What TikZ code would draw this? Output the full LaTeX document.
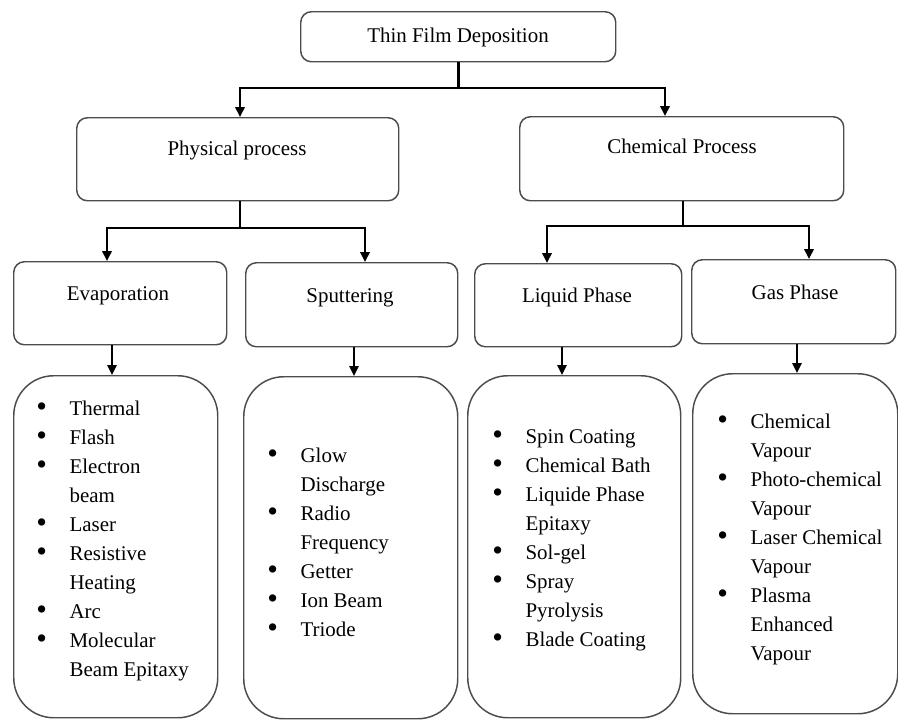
\documentclass[tikz,border=0pt]{standalone}
\usepackage{fontspec}
\setmainfont{Liberation Serif}
\usetikzlibrary{arrows.meta}
\newcommand{\bl}{\makebox[25pt][l]{\raisebox{-0.08em}{\scalebox{1.45}{\textbullet}}}}
\newcommand{\ind}{\hspace*{25pt}}
\tikzset{
  hbox/.style={draw=black!70, line width=1.1pt, rounded corners=8pt, inner sep=0pt, anchor=north west},
  lbox/.style={draw=black!70, line width=1.1pt, rounded corners=30pt, inner sep=0pt, anchor=north west},
  htext/.style={anchor=base, inner sep=0pt, font=\fontsize{15.7}{21.75}\selectfont},
  ltext/.style={anchor=north west, inner sep=0pt, align=left, font=\fontsize{15.7}{21.75}\selectfont},
  conn/.style={line width=2pt, black},
  carr/.style={line width=2pt, black, -{Triangle[length=7.5pt,width=7pt]}},
  sarr/.style={line width=1.5pt, black, -{Triangle[length=7.5pt,width=7pt]}},
}
\begin{document}
\begin{tikzpicture}[x=0.75pt,y=-0.75pt]
\useasboundingbox (0,0) rectangle (898,719);
% header boxes
\node[hbox, minimum width=315*0.75pt, minimum height=50*0.75pt] (top) at (300,11) {};
\node[hbox, minimum width=322*0.75pt, minimum height=83*0.75pt] (phys) at (76,117) {};
\node[hbox, minimum width=324*0.75pt, minimum height=84*0.75pt] (chem) at (519,116) {};
\node[hbox, minimum width=213*0.75pt, minimum height=83*0.75pt] (evap) at (13,261) {};
\node[hbox, minimum width=212*0.75pt, minimum height=84*0.75pt] (sput) at (245,262) {};
\node[hbox, minimum width=207*0.75pt, minimum height=83*0.75pt] (liq) at (474,263) {};
\node[hbox, minimum width=204*0.75pt, minimum height=84*0.75pt] (gas) at (691,259) {};
% header texts
\node[htext] (ttop) at (458,42) {Thin Film Deposition};
\node[htext] (tphys) at (237,155) {Physical process};
\node[htext] (tchem) at (682,153) {Chemical Process};
\node[htext] (tevap) at (118,300) {Evaporation};
\node[htext] (tsput) at (350,302) {Sputtering};
\node[htext] (tliq) at (577,302) {Liquid Phase};
\node[htext] (tgas) at (795,299) {Gas Phase};
% list boxes
\node[lbox, minimum width=204*0.75pt, minimum height=342*0.75pt] (evl) at (13,375) {};
\node[lbox, minimum width=214*0.75pt, minimum height=342*0.75pt] (spl) at (243,376) {};
\node[lbox, minimum width=213*0.75pt, minimum height=342*0.75pt] (liql) at (467,375) {};
\node[lbox, minimum width=205*0.75pt, minimum height=340*0.75pt] (gasl) at (692,373) {};
% list texts
\node[ltext] (evt) at (36,394.7) {\strut\bl Thermal\\ \bl Flash\\ \bl Electron\\ \ind beam\\ \bl Laser\\ \bl Resistive\\ \ind Heating\\ \bl Arc\\ \bl Molecular\\ \ind Beam Epitaxy};
\node[ltext] (spt) at (267,441.7) {\strut\bl Glow\\ \ind Discharge\\ \bl Radio\\ \ind Frequency\\ \bl Getter\\ \bl Ion Beam\\ \bl Triode};
\node[ltext] (liqt) at (492,422.7) {\strut\bl Spin Coating\\ \bl Chemical Bath\\ \bl Liquide Phase\\ \ind Epitaxy\\ \bl Sol-gel\\ \bl Spray\\ \ind Pyrolysis\\ \bl Blade Coating};
\node[ltext] (gast) at (717,407.7) {\strut\bl Chemical\\ \ind Vapour\\ \bl Photo-chemical\\ \ind Vapour\\ \bl Laser Chemical\\ \ind Vapour\\ \bl Plasma\\ \ind Enhanced\\ \ind Vapour};
% connector coordinates
\coordinate (j1) at (457.5,88);
\coordinate (a1) at (240,0);
\coordinate (a2) at (665,0);
\coordinate (j2) at (240,228);
\coordinate (b1) at (107,0);
\coordinate (b2) at (365,0);
\coordinate (a3) at (683,0);
\coordinate (j3) at (683,226);
\coordinate (c1) at (547,0);
\coordinate (c2) at (809,0);
\coordinate (d1) at (112,0);
\coordinate (d2) at (354,0);
\coordinate (d3) at (562,0);
\coordinate (d4) at (797,0);
% connectors
\draw[conn] (top.south) -- (top.south |- j1);
\draw[carr] (top.south |- j1) -| (phys.north -| a1);
\draw[carr] (top.south |- j1) -| (chem.north -| a2);
\draw[conn] (phys.south -| a1) -- (j2);
\draw[carr] (j2) -| (evap.north -| b1);
\draw[carr] (j2) -| (sput.north -| b2);
\draw[conn] (chem.south -| a3) -- (j3);
\draw[carr] (j3) -| (liq.north -| c1);
\draw[carr] (j3) -| (gas.north -| c2);
\draw[sarr] (evap.south -| d1) -- (evl.north -| d1);
\draw[sarr] (sput.south -| d2) -- (spl.north -| d2);
\draw[sarr] (liq.south -| d3) -- (liql.north -| d3);
\draw[sarr] (gas.south -| d4) -- (gasl.north -| d4);
\end{tikzpicture}
\end{document}
